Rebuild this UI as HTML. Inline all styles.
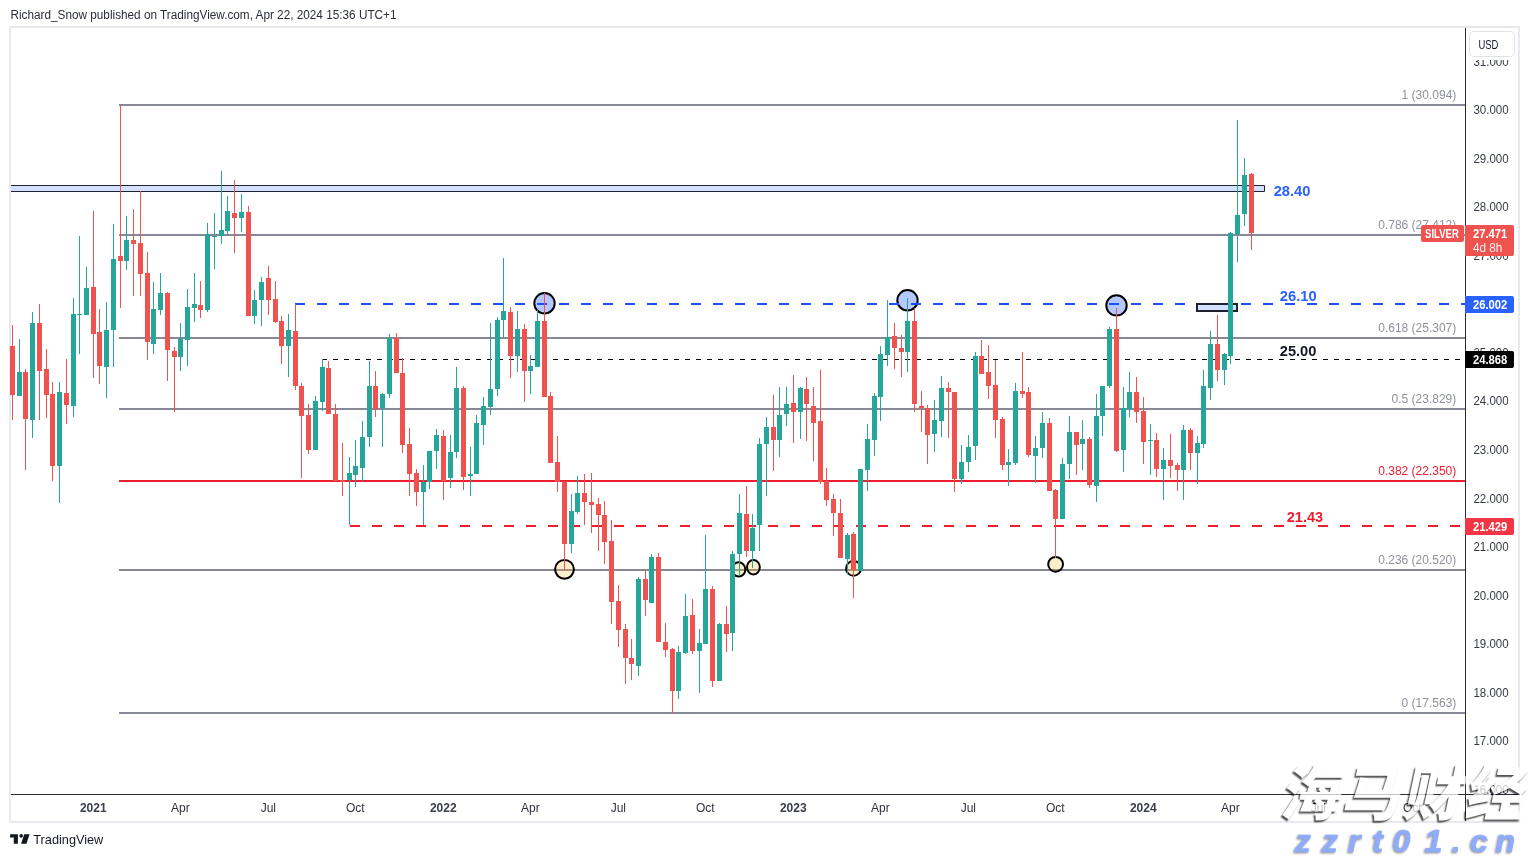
<!DOCTYPE html><html><head><meta charset="utf-8"><title>Silver weekly chart</title><style>
html,body{margin:0;padding:0;background:#fff;}body{width:1529px;height:857px;overflow:hidden;position:relative;}
svg{position:absolute;left:0;top:0;display:block;}
text{font-family:"Liberation Sans", Arial, sans-serif;}
.wm{position:absolute;font-family:"Liberation Sans","Noto Sans CJK SC",sans-serif;font-style:italic;white-space:nowrap;}
</style></head><body>
<svg width="1529" height="857" viewBox="0 0 1529 857">
<text x="10.5" y="19" font-size="12" fill="#2a2e39" textLength="386" lengthAdjust="spacingAndGlyphs">Richard_Snow published on TradingView.com, Apr 22, 2024 15:36 UTC+1</text>
<rect x="10" y="27" width="1509" height="795" fill="none" stroke="#e9eaef" stroke-width="2"/>
<g shape-rendering="crispEdges">
<rect x="119" y="104" width="1346" height="2" fill="#868995"/>
<rect x="119" y="234" width="1346" height="2" fill="#868995"/>
<rect x="119" y="337" width="1346" height="2" fill="#868995"/>
<rect x="119" y="408" width="1346" height="2" fill="#868995"/>
<rect x="119" y="480" width="1346" height="2" fill="#ef1d30"/>
<rect x="119" y="569" width="1346" height="2" fill="#868995"/>
<rect x="119" y="712" width="1346" height="2" fill="#868995"/>
</g>
<ellipse cx="544.5" cy="303.3" rx="10.2" ry="10.2" fill="rgba(41,98,255,0.35)" stroke="#000" stroke-width="2"/>
<ellipse cx="907.5" cy="300.3" rx="10.2" ry="10.2" fill="rgba(41,98,255,0.35)" stroke="#000" stroke-width="2"/>
<ellipse cx="1116.5" cy="305.4" rx="10.2" ry="10.2" fill="rgba(41,98,255,0.35)" stroke="#000" stroke-width="2"/>
<ellipse cx="564.5" cy="569.3" rx="9.4" ry="9.4" fill="rgba(247,192,51,0.25)" stroke="#000" stroke-width="2"/>
<ellipse cx="738.7" cy="569.4" rx="6.6" ry="7.2" fill="rgba(247,192,51,0.25)" stroke="#000" stroke-width="2"/>
<ellipse cx="753.4" cy="567.3" rx="6.4" ry="7.2" fill="rgba(247,192,51,0.25)" stroke="#000" stroke-width="2"/>
<ellipse cx="853.5" cy="568.4" rx="7.4" ry="7.4" fill="rgba(247,192,51,0.25)" stroke="#000" stroke-width="2"/>
<ellipse cx="1055.6" cy="564.3" rx="7.4" ry="7.4" fill="rgba(247,192,51,0.25)" stroke="#000" stroke-width="2"/>
<g shape-rendering="crispEdges">
<line x1="294.50" y1="304.00" x2="1465.00" y2="304.00" stroke="#1c4fff" stroke-width="2" stroke-dasharray="10 12"/>
<line x1="322.30" y1="359.50" x2="1465.00" y2="359.50" stroke="#000" stroke-width="1" stroke-dasharray="5 6"/>
<line x1="349.50" y1="526.00" x2="1465.00" y2="526.00" stroke="#ef1d30" stroke-width="2" stroke-dasharray="10 12"/>
</g>
<rect x="11" y="186" width="1254" height="5" fill="#d4e0ff"/>
<path d="M11 185.5 H1264.5 V191.5 H11" fill="none" stroke="#1f2330" stroke-width="1"/>
<rect x="1197" y="304" width="40" height="7" fill="#d4e0ff" stroke="#1f2330" stroke-width="2"/>
<g shape-rendering="crispEdges">
<rect x="12" y="325" width="1" height="95" fill="#ef5350"/>
<rect x="10" y="346" width="5" height="49" fill="#ef5350"/>
<rect x="19" y="339" width="1" height="57" fill="#26a69a"/>
<rect x="17" y="372" width="5" height="24" fill="#26a69a"/>
<rect x="25" y="369" width="1" height="101" fill="#ef5350"/>
<rect x="23" y="372" width="5" height="47" fill="#ef5350"/>
<rect x="32" y="312" width="1" height="126" fill="#26a69a"/>
<rect x="30" y="323" width="5" height="97" fill="#26a69a"/>
<rect x="39" y="304" width="1" height="116" fill="#ef5350"/>
<rect x="37" y="323" width="5" height="48" fill="#ef5350"/>
<rect x="46" y="349" width="1" height="69" fill="#ef5350"/>
<rect x="44" y="369" width="5" height="26" fill="#ef5350"/>
<rect x="52" y="382" width="1" height="99" fill="#ef5350"/>
<rect x="50" y="394" width="5" height="72" fill="#ef5350"/>
<rect x="59" y="382" width="1" height="121" fill="#26a69a"/>
<rect x="57" y="392" width="5" height="74" fill="#26a69a"/>
<rect x="66" y="359" width="1" height="65" fill="#ef5350"/>
<rect x="64" y="393" width="5" height="12" fill="#ef5350"/>
<rect x="73" y="298" width="1" height="119" fill="#26a69a"/>
<rect x="71" y="314" width="5" height="92" fill="#26a69a"/>
<rect x="79" y="236" width="1" height="118" fill="#26a69a"/>
<rect x="77" y="314" width="5" height="1" fill="#26a69a"/>
<rect x="86" y="267" width="1" height="48" fill="#26a69a"/>
<rect x="84" y="288" width="5" height="27" fill="#26a69a"/>
<rect x="93" y="211" width="1" height="167" fill="#ef5350"/>
<rect x="91" y="287" width="5" height="47" fill="#ef5350"/>
<rect x="99" y="309" width="1" height="75" fill="#ef5350"/>
<rect x="97" y="332" width="5" height="34" fill="#ef5350"/>
<rect x="106" y="302" width="1" height="96" fill="#26a69a"/>
<rect x="104" y="330" width="5" height="37" fill="#26a69a"/>
<rect x="113" y="224" width="1" height="143" fill="#26a69a"/>
<rect x="111" y="259" width="5" height="71" fill="#26a69a"/>
<rect x="120" y="105" width="1" height="203" fill="#ef5350"/>
<rect x="118" y="256" width="5" height="5" fill="#ef5350"/>
<rect x="126" y="216" width="1" height="54" fill="#26a69a"/>
<rect x="124" y="240" width="5" height="21" fill="#26a69a"/>
<rect x="133" y="209" width="1" height="87" fill="#ef5350"/>
<rect x="131" y="240" width="5" height="4" fill="#ef5350"/>
<rect x="140" y="191" width="1" height="105" fill="#ef5350"/>
<rect x="138" y="243" width="5" height="31" fill="#ef5350"/>
<rect x="147" y="252" width="1" height="108" fill="#ef5350"/>
<rect x="145" y="273" width="5" height="69" fill="#ef5350"/>
<rect x="153" y="282" width="1" height="72" fill="#26a69a"/>
<rect x="151" y="309" width="5" height="35" fill="#26a69a"/>
<rect x="160" y="273" width="1" height="42" fill="#26a69a"/>
<rect x="158" y="293" width="5" height="17" fill="#26a69a"/>
<rect x="167" y="292" width="1" height="89" fill="#ef5350"/>
<rect x="165" y="293" width="5" height="57" fill="#ef5350"/>
<rect x="174" y="347" width="1" height="65" fill="#ef5350"/>
<rect x="172" y="351" width="5" height="6" fill="#ef5350"/>
<rect x="180" y="323" width="1" height="48" fill="#26a69a"/>
<rect x="178" y="339" width="5" height="18" fill="#26a69a"/>
<rect x="187" y="289" width="1" height="77" fill="#26a69a"/>
<rect x="185" y="307" width="5" height="33" fill="#26a69a"/>
<rect x="194" y="273" width="1" height="49" fill="#26a69a"/>
<rect x="192" y="304" width="5" height="4" fill="#26a69a"/>
<rect x="200" y="281" width="1" height="37" fill="#ef5350"/>
<rect x="198" y="305" width="5" height="5" fill="#ef5350"/>
<rect x="207" y="223" width="1" height="89" fill="#26a69a"/>
<rect x="205" y="234" width="5" height="76" fill="#26a69a"/>
<rect x="214" y="213" width="1" height="56" fill="#26a69a"/>
<rect x="212" y="236" width="5" height="1" fill="#26a69a"/>
<rect x="221" y="171" width="1" height="73" fill="#26a69a"/>
<rect x="219" y="230" width="5" height="6" fill="#26a69a"/>
<rect x="227" y="196" width="1" height="39" fill="#26a69a"/>
<rect x="225" y="211" width="5" height="20" fill="#26a69a"/>
<rect x="234" y="180" width="1" height="73" fill="#ef5350"/>
<rect x="232" y="213" width="5" height="5" fill="#ef5350"/>
<rect x="241" y="194" width="1" height="38" fill="#26a69a"/>
<rect x="239" y="212" width="5" height="6" fill="#26a69a"/>
<rect x="248" y="206" width="1" height="110" fill="#ef5350"/>
<rect x="246" y="212" width="5" height="104" fill="#ef5350"/>
<rect x="254" y="290" width="1" height="34" fill="#26a69a"/>
<rect x="252" y="300" width="5" height="16" fill="#26a69a"/>
<rect x="261" y="277" width="1" height="49" fill="#26a69a"/>
<rect x="259" y="282" width="5" height="18" fill="#26a69a"/>
<rect x="268" y="266" width="1" height="49" fill="#ef5350"/>
<rect x="266" y="278" width="5" height="22" fill="#ef5350"/>
<rect x="275" y="281" width="1" height="42" fill="#ef5350"/>
<rect x="273" y="299" width="5" height="23" fill="#ef5350"/>
<rect x="281" y="316" width="1" height="48" fill="#ef5350"/>
<rect x="279" y="321" width="5" height="25" fill="#ef5350"/>
<rect x="288" y="314" width="1" height="63" fill="#26a69a"/>
<rect x="286" y="330" width="5" height="16" fill="#26a69a"/>
<rect x="295" y="304" width="1" height="86" fill="#ef5350"/>
<rect x="293" y="331" width="5" height="55" fill="#ef5350"/>
<rect x="301" y="383" width="1" height="95" fill="#ef5350"/>
<rect x="299" y="386" width="5" height="30" fill="#ef5350"/>
<rect x="308" y="404" width="1" height="50" fill="#ef5350"/>
<rect x="306" y="415" width="5" height="35" fill="#ef5350"/>
<rect x="315" y="396" width="1" height="54" fill="#26a69a"/>
<rect x="313" y="401" width="5" height="49" fill="#26a69a"/>
<rect x="322" y="359" width="1" height="52" fill="#26a69a"/>
<rect x="320" y="367" width="5" height="35" fill="#26a69a"/>
<rect x="328" y="361" width="1" height="53" fill="#ef5350"/>
<rect x="326" y="368" width="5" height="46" fill="#ef5350"/>
<rect x="335" y="404" width="1" height="77" fill="#ef5350"/>
<rect x="333" y="414" width="5" height="67" fill="#ef5350"/>
<rect x="342" y="443" width="1" height="53" fill="#ef5350"/>
<rect x="340" y="480" width="5" height="2" fill="#ef5350"/>
<rect x="349" y="457" width="1" height="68" fill="#26a69a"/>
<rect x="347" y="473" width="5" height="7" fill="#26a69a"/>
<rect x="355" y="440" width="1" height="47" fill="#26a69a"/>
<rect x="353" y="466" width="5" height="9" fill="#26a69a"/>
<rect x="362" y="421" width="1" height="60" fill="#26a69a"/>
<rect x="360" y="437" width="5" height="31" fill="#26a69a"/>
<rect x="369" y="361" width="1" height="86" fill="#26a69a"/>
<rect x="367" y="386" width="5" height="51" fill="#26a69a"/>
<rect x="375" y="371" width="1" height="46" fill="#ef5350"/>
<rect x="373" y="386" width="5" height="23" fill="#ef5350"/>
<rect x="382" y="393" width="1" height="54" fill="#26a69a"/>
<rect x="380" y="394" width="5" height="14" fill="#26a69a"/>
<rect x="389" y="334" width="1" height="64" fill="#26a69a"/>
<rect x="387" y="338" width="5" height="56" fill="#26a69a"/>
<rect x="396" y="333" width="1" height="40" fill="#ef5350"/>
<rect x="394" y="338" width="5" height="35" fill="#ef5350"/>
<rect x="402" y="358" width="1" height="95" fill="#ef5350"/>
<rect x="400" y="373" width="5" height="72" fill="#ef5350"/>
<rect x="409" y="428" width="1" height="68" fill="#ef5350"/>
<rect x="407" y="444" width="5" height="30" fill="#ef5350"/>
<rect x="416" y="469" width="1" height="37" fill="#ef5350"/>
<rect x="414" y="473" width="5" height="19" fill="#ef5350"/>
<rect x="423" y="465" width="1" height="60" fill="#26a69a"/>
<rect x="421" y="482" width="5" height="10" fill="#26a69a"/>
<rect x="429" y="451" width="1" height="38" fill="#26a69a"/>
<rect x="427" y="451" width="5" height="31" fill="#26a69a"/>
<rect x="436" y="429" width="1" height="40" fill="#26a69a"/>
<rect x="434" y="435" width="5" height="16" fill="#26a69a"/>
<rect x="443" y="430" width="1" height="70" fill="#ef5350"/>
<rect x="441" y="436" width="5" height="45" fill="#ef5350"/>
<rect x="450" y="435" width="1" height="53" fill="#26a69a"/>
<rect x="448" y="452" width="5" height="26" fill="#26a69a"/>
<rect x="456" y="367" width="1" height="91" fill="#26a69a"/>
<rect x="454" y="388" width="5" height="64" fill="#26a69a"/>
<rect x="463" y="386" width="1" height="104" fill="#ef5350"/>
<rect x="461" y="388" width="5" height="89" fill="#ef5350"/>
<rect x="470" y="447" width="1" height="49" fill="#26a69a"/>
<rect x="468" y="474" width="5" height="2" fill="#26a69a"/>
<rect x="476" y="415" width="1" height="59" fill="#26a69a"/>
<rect x="474" y="423" width="5" height="51" fill="#26a69a"/>
<rect x="483" y="397" width="1" height="48" fill="#26a69a"/>
<rect x="481" y="406" width="5" height="19" fill="#26a69a"/>
<rect x="490" y="323" width="1" height="92" fill="#26a69a"/>
<rect x="488" y="389" width="5" height="18" fill="#26a69a"/>
<rect x="497" y="317" width="1" height="79" fill="#26a69a"/>
<rect x="495" y="320" width="5" height="69" fill="#26a69a"/>
<rect x="503" y="258" width="1" height="79" fill="#26a69a"/>
<rect x="501" y="311" width="5" height="9" fill="#26a69a"/>
<rect x="510" y="307" width="1" height="71" fill="#ef5350"/>
<rect x="508" y="312" width="5" height="44" fill="#ef5350"/>
<rect x="517" y="311" width="1" height="61" fill="#26a69a"/>
<rect x="515" y="329" width="5" height="27" fill="#26a69a"/>
<rect x="524" y="324" width="1" height="78" fill="#ef5350"/>
<rect x="522" y="329" width="5" height="42" fill="#ef5350"/>
<rect x="530" y="355" width="1" height="39" fill="#26a69a"/>
<rect x="528" y="366" width="5" height="5" fill="#26a69a"/>
<rect x="537" y="310" width="1" height="57" fill="#26a69a"/>
<rect x="535" y="321" width="5" height="46" fill="#26a69a"/>
<rect x="544" y="293" width="1" height="104" fill="#ef5350"/>
<rect x="542" y="321" width="5" height="76" fill="#ef5350"/>
<rect x="550" y="392" width="1" height="71" fill="#ef5350"/>
<rect x="548" y="396" width="5" height="67" fill="#ef5350"/>
<rect x="557" y="436" width="1" height="56" fill="#ef5350"/>
<rect x="555" y="462" width="5" height="20" fill="#ef5350"/>
<rect x="564" y="481" width="1" height="90" fill="#ef5350"/>
<rect x="562" y="481" width="5" height="63" fill="#ef5350"/>
<rect x="571" y="494" width="1" height="59" fill="#26a69a"/>
<rect x="569" y="511" width="5" height="33" fill="#26a69a"/>
<rect x="577" y="476" width="1" height="38" fill="#26a69a"/>
<rect x="575" y="493" width="5" height="19" fill="#26a69a"/>
<rect x="584" y="474" width="1" height="51" fill="#ef5350"/>
<rect x="582" y="493" width="5" height="9" fill="#ef5350"/>
<rect x="591" y="473" width="1" height="60" fill="#ef5350"/>
<rect x="589" y="502" width="5" height="3" fill="#ef5350"/>
<rect x="598" y="498" width="1" height="53" fill="#ef5350"/>
<rect x="596" y="504" width="5" height="11" fill="#ef5350"/>
<rect x="604" y="501" width="1" height="63" fill="#ef5350"/>
<rect x="602" y="515" width="5" height="27" fill="#ef5350"/>
<rect x="611" y="520" width="1" height="104" fill="#ef5350"/>
<rect x="609" y="541" width="5" height="61" fill="#ef5350"/>
<rect x="618" y="585" width="1" height="62" fill="#ef5350"/>
<rect x="616" y="601" width="5" height="29" fill="#ef5350"/>
<rect x="625" y="624" width="1" height="60" fill="#ef5350"/>
<rect x="623" y="629" width="5" height="29" fill="#ef5350"/>
<rect x="631" y="639" width="1" height="41" fill="#ef5350"/>
<rect x="629" y="658" width="5" height="6" fill="#ef5350"/>
<rect x="638" y="577" width="1" height="99" fill="#26a69a"/>
<rect x="636" y="579" width="5" height="87" fill="#26a69a"/>
<rect x="645" y="570" width="1" height="46" fill="#ef5350"/>
<rect x="643" y="579" width="5" height="21" fill="#ef5350"/>
<rect x="651" y="554" width="1" height="49" fill="#26a69a"/>
<rect x="649" y="557" width="5" height="46" fill="#26a69a"/>
<rect x="658" y="553" width="1" height="89" fill="#ef5350"/>
<rect x="656" y="557" width="5" height="85" fill="#ef5350"/>
<rect x="665" y="623" width="1" height="34" fill="#ef5350"/>
<rect x="663" y="642" width="5" height="8" fill="#ef5350"/>
<rect x="672" y="648" width="1" height="65" fill="#ef5350"/>
<rect x="670" y="649" width="5" height="42" fill="#ef5350"/>
<rect x="678" y="646" width="1" height="53" fill="#26a69a"/>
<rect x="676" y="652" width="5" height="39" fill="#26a69a"/>
<rect x="685" y="594" width="1" height="60" fill="#26a69a"/>
<rect x="683" y="616" width="5" height="37" fill="#26a69a"/>
<rect x="692" y="599" width="1" height="55" fill="#ef5350"/>
<rect x="690" y="615" width="5" height="36" fill="#ef5350"/>
<rect x="699" y="629" width="1" height="64" fill="#26a69a"/>
<rect x="697" y="643" width="5" height="8" fill="#26a69a"/>
<rect x="705" y="535" width="1" height="109" fill="#26a69a"/>
<rect x="703" y="589" width="5" height="55" fill="#26a69a"/>
<rect x="712" y="586" width="1" height="101" fill="#ef5350"/>
<rect x="710" y="589" width="5" height="92" fill="#ef5350"/>
<rect x="719" y="623" width="1" height="58" fill="#26a69a"/>
<rect x="717" y="624" width="5" height="57" fill="#26a69a"/>
<rect x="726" y="606" width="1" height="46" fill="#ef5350"/>
<rect x="724" y="624" width="5" height="10" fill="#ef5350"/>
<rect x="732" y="551" width="1" height="100" fill="#26a69a"/>
<rect x="730" y="554" width="5" height="79" fill="#26a69a"/>
<rect x="739" y="494" width="1" height="82" fill="#26a69a"/>
<rect x="737" y="513" width="5" height="41" fill="#26a69a"/>
<rect x="746" y="486" width="1" height="71" fill="#ef5350"/>
<rect x="744" y="514" width="5" height="37" fill="#ef5350"/>
<rect x="752" y="514" width="1" height="54" fill="#26a69a"/>
<rect x="750" y="528" width="5" height="23" fill="#26a69a"/>
<rect x="759" y="438" width="1" height="113" fill="#26a69a"/>
<rect x="757" y="444" width="5" height="81" fill="#26a69a"/>
<rect x="766" y="417" width="1" height="79" fill="#26a69a"/>
<rect x="764" y="427" width="5" height="17" fill="#26a69a"/>
<rect x="773" y="395" width="1" height="76" fill="#ef5350"/>
<rect x="771" y="427" width="5" height="13" fill="#ef5350"/>
<rect x="779" y="387" width="1" height="70" fill="#26a69a"/>
<rect x="777" y="415" width="5" height="25" fill="#26a69a"/>
<rect x="786" y="387" width="1" height="39" fill="#26a69a"/>
<rect x="784" y="404" width="5" height="10" fill="#26a69a"/>
<rect x="793" y="375" width="1" height="68" fill="#ef5350"/>
<rect x="791" y="403" width="5" height="9" fill="#ef5350"/>
<rect x="800" y="387" width="1" height="52" fill="#26a69a"/>
<rect x="798" y="388" width="5" height="24" fill="#26a69a"/>
<rect x="806" y="377" width="1" height="64" fill="#ef5350"/>
<rect x="804" y="389" width="5" height="15" fill="#ef5350"/>
<rect x="813" y="387" width="1" height="74" fill="#ef5350"/>
<rect x="811" y="406" width="5" height="17" fill="#ef5350"/>
<rect x="820" y="370" width="1" height="114" fill="#ef5350"/>
<rect x="818" y="421" width="5" height="61" fill="#ef5350"/>
<rect x="826" y="468" width="1" height="38" fill="#ef5350"/>
<rect x="824" y="481" width="5" height="19" fill="#ef5350"/>
<rect x="833" y="494" width="1" height="42" fill="#ef5350"/>
<rect x="831" y="499" width="5" height="14" fill="#ef5350"/>
<rect x="840" y="499" width="1" height="59" fill="#ef5350"/>
<rect x="838" y="513" width="5" height="45" fill="#ef5350"/>
<rect x="847" y="533" width="1" height="41" fill="#26a69a"/>
<rect x="845" y="535" width="5" height="24" fill="#26a69a"/>
<rect x="853" y="532" width="1" height="66" fill="#ef5350"/>
<rect x="851" y="534" width="5" height="36" fill="#ef5350"/>
<rect x="860" y="469" width="1" height="102" fill="#26a69a"/>
<rect x="858" y="469" width="5" height="102" fill="#26a69a"/>
<rect x="867" y="424" width="1" height="67" fill="#26a69a"/>
<rect x="865" y="439" width="5" height="31" fill="#26a69a"/>
<rect x="874" y="393" width="1" height="63" fill="#26a69a"/>
<rect x="872" y="396" width="5" height="44" fill="#26a69a"/>
<rect x="880" y="346" width="1" height="75" fill="#26a69a"/>
<rect x="878" y="354" width="5" height="43" fill="#26a69a"/>
<rect x="887" y="300" width="1" height="66" fill="#26a69a"/>
<rect x="885" y="337" width="5" height="18" fill="#26a69a"/>
<rect x="894" y="323" width="1" height="46" fill="#ef5350"/>
<rect x="892" y="336" width="5" height="12" fill="#ef5350"/>
<rect x="901" y="335" width="1" height="42" fill="#ef5350"/>
<rect x="899" y="348" width="5" height="4" fill="#ef5350"/>
<rect x="907" y="298" width="1" height="74" fill="#26a69a"/>
<rect x="905" y="321" width="5" height="31" fill="#26a69a"/>
<rect x="914" y="308" width="1" height="104" fill="#ef5350"/>
<rect x="912" y="321" width="5" height="83" fill="#ef5350"/>
<rect x="921" y="391" width="1" height="41" fill="#ef5350"/>
<rect x="919" y="406" width="5" height="2" fill="#ef5350"/>
<rect x="927" y="405" width="1" height="59" fill="#ef5350"/>
<rect x="925" y="408" width="5" height="27" fill="#ef5350"/>
<rect x="934" y="400" width="1" height="52" fill="#26a69a"/>
<rect x="932" y="420" width="5" height="14" fill="#26a69a"/>
<rect x="941" y="376" width="1" height="61" fill="#26a69a"/>
<rect x="939" y="388" width="5" height="33" fill="#26a69a"/>
<rect x="948" y="382" width="1" height="56" fill="#ef5350"/>
<rect x="946" y="388" width="5" height="4" fill="#ef5350"/>
<rect x="954" y="392" width="1" height="100" fill="#ef5350"/>
<rect x="952" y="392" width="5" height="87" fill="#ef5350"/>
<rect x="961" y="445" width="1" height="39" fill="#26a69a"/>
<rect x="959" y="462" width="5" height="17" fill="#26a69a"/>
<rect x="968" y="435" width="1" height="37" fill="#26a69a"/>
<rect x="966" y="447" width="5" height="15" fill="#26a69a"/>
<rect x="975" y="352" width="1" height="108" fill="#26a69a"/>
<rect x="973" y="356" width="5" height="90" fill="#26a69a"/>
<rect x="981" y="340" width="1" height="34" fill="#ef5350"/>
<rect x="979" y="356" width="5" height="18" fill="#ef5350"/>
<rect x="988" y="345" width="1" height="54" fill="#ef5350"/>
<rect x="986" y="372" width="5" height="14" fill="#ef5350"/>
<rect x="995" y="360" width="1" height="78" fill="#ef5350"/>
<rect x="993" y="385" width="5" height="35" fill="#ef5350"/>
<rect x="1002" y="417" width="1" height="53" fill="#ef5350"/>
<rect x="1000" y="419" width="5" height="46" fill="#ef5350"/>
<rect x="1008" y="449" width="1" height="37" fill="#26a69a"/>
<rect x="1006" y="462" width="5" height="3" fill="#26a69a"/>
<rect x="1015" y="383" width="1" height="82" fill="#26a69a"/>
<rect x="1013" y="391" width="5" height="72" fill="#26a69a"/>
<rect x="1022" y="352" width="1" height="46" fill="#ef5350"/>
<rect x="1020" y="391" width="5" height="3" fill="#ef5350"/>
<rect x="1028" y="387" width="1" height="70" fill="#ef5350"/>
<rect x="1026" y="392" width="5" height="63" fill="#ef5350"/>
<rect x="1035" y="436" width="1" height="47" fill="#26a69a"/>
<rect x="1033" y="448" width="5" height="8" fill="#26a69a"/>
<rect x="1042" y="412" width="1" height="46" fill="#26a69a"/>
<rect x="1040" y="423" width="5" height="25" fill="#26a69a"/>
<rect x="1049" y="418" width="1" height="73" fill="#ef5350"/>
<rect x="1047" y="423" width="5" height="68" fill="#ef5350"/>
<rect x="1055" y="489" width="1" height="69" fill="#ef5350"/>
<rect x="1053" y="490" width="5" height="29" fill="#ef5350"/>
<rect x="1062" y="458" width="1" height="61" fill="#26a69a"/>
<rect x="1060" y="464" width="5" height="55" fill="#26a69a"/>
<rect x="1069" y="416" width="1" height="63" fill="#26a69a"/>
<rect x="1067" y="432" width="5" height="32" fill="#26a69a"/>
<rect x="1076" y="432" width="1" height="43" fill="#ef5350"/>
<rect x="1074" y="432" width="5" height="13" fill="#ef5350"/>
<rect x="1082" y="420" width="1" height="50" fill="#26a69a"/>
<rect x="1080" y="439" width="5" height="5" fill="#26a69a"/>
<rect x="1089" y="437" width="1" height="51" fill="#ef5350"/>
<rect x="1087" y="439" width="5" height="46" fill="#ef5350"/>
<rect x="1096" y="394" width="1" height="108" fill="#26a69a"/>
<rect x="1094" y="416" width="5" height="70" fill="#26a69a"/>
<rect x="1102" y="386" width="1" height="50" fill="#26a69a"/>
<rect x="1100" y="386" width="5" height="30" fill="#26a69a"/>
<rect x="1109" y="327" width="1" height="61" fill="#26a69a"/>
<rect x="1107" y="329" width="5" height="57" fill="#26a69a"/>
<rect x="1116" y="308" width="1" height="144" fill="#ef5350"/>
<rect x="1114" y="329" width="5" height="122" fill="#ef5350"/>
<rect x="1123" y="387" width="1" height="85" fill="#26a69a"/>
<rect x="1121" y="408" width="5" height="42" fill="#26a69a"/>
<rect x="1129" y="372" width="1" height="45" fill="#26a69a"/>
<rect x="1127" y="392" width="5" height="17" fill="#26a69a"/>
<rect x="1136" y="377" width="1" height="46" fill="#ef5350"/>
<rect x="1134" y="392" width="5" height="20" fill="#ef5350"/>
<rect x="1143" y="397" width="1" height="67" fill="#ef5350"/>
<rect x="1141" y="411" width="5" height="31" fill="#ef5350"/>
<rect x="1150" y="424" width="1" height="51" fill="#26a69a"/>
<rect x="1148" y="440" width="5" height="1" fill="#26a69a"/>
<rect x="1156" y="433" width="1" height="44" fill="#ef5350"/>
<rect x="1154" y="440" width="5" height="29" fill="#ef5350"/>
<rect x="1163" y="448" width="1" height="52" fill="#26a69a"/>
<rect x="1161" y="460" width="5" height="9" fill="#26a69a"/>
<rect x="1170" y="434" width="1" height="44" fill="#ef5350"/>
<rect x="1168" y="460" width="5" height="6" fill="#ef5350"/>
<rect x="1177" y="463" width="1" height="28" fill="#ef5350"/>
<rect x="1175" y="465" width="5" height="5" fill="#ef5350"/>
<rect x="1183" y="425" width="1" height="75" fill="#26a69a"/>
<rect x="1181" y="430" width="5" height="40" fill="#26a69a"/>
<rect x="1190" y="428" width="1" height="42" fill="#ef5350"/>
<rect x="1188" y="430" width="5" height="23" fill="#ef5350"/>
<rect x="1197" y="436" width="1" height="48" fill="#26a69a"/>
<rect x="1195" y="443" width="5" height="10" fill="#26a69a"/>
<rect x="1203" y="370" width="1" height="78" fill="#26a69a"/>
<rect x="1201" y="386" width="5" height="58" fill="#26a69a"/>
<rect x="1210" y="331" width="1" height="69" fill="#26a69a"/>
<rect x="1208" y="344" width="5" height="44" fill="#26a69a"/>
<rect x="1217" y="315" width="1" height="66" fill="#ef5350"/>
<rect x="1215" y="344" width="5" height="26" fill="#ef5350"/>
<rect x="1224" y="353" width="1" height="32" fill="#26a69a"/>
<rect x="1222" y="354" width="5" height="16" fill="#26a69a"/>
<rect x="1230" y="232" width="1" height="132" fill="#26a69a"/>
<rect x="1228" y="233" width="5" height="123" fill="#26a69a"/>
<rect x="1237" y="120" width="1" height="142" fill="#26a69a"/>
<rect x="1235" y="215" width="5" height="19" fill="#26a69a"/>
<rect x="1244" y="158" width="1" height="68" fill="#26a69a"/>
<rect x="1242" y="175" width="5" height="39" fill="#26a69a"/>
<rect x="1251" y="173" width="1" height="77" fill="#ef5350"/>
<rect x="1249" y="174" width="5" height="59" fill="#ef5350"/>
</g>
<text x="1456.3" y="98.9" font-size="12" fill="#8f929c" text-anchor="end">1 (30.094)</text>
<text x="1456.3" y="228.9" font-size="12" fill="#8f929c" text-anchor="end">0.786 (27.412)</text>
<text x="1456.3" y="331.9" font-size="12" fill="#8f929c" text-anchor="end">0.618 (25.307)</text>
<text x="1456.3" y="402.9" font-size="12" fill="#8f929c" text-anchor="end">0.5 (23.829)</text>
<text x="1456.3" y="474.9" font-size="12" fill="#ef1d30" text-anchor="end">0.382 (22.350)</text>
<text x="1456.3" y="563.9" font-size="12" fill="#8f929c" text-anchor="end">0.236 (20.520)</text>
<text x="1456.3" y="706.9" font-size="12" fill="#8f929c" text-anchor="end">0 (17.563)</text>
<text x="1273.7" y="195.8" font-size="14" font-weight="bold" fill="#2962ff" textLength="36.8" lengthAdjust="spacingAndGlyphs">28.40</text>
<text x="1279.8" y="300.8" font-size="14" font-weight="bold" fill="#2962ff" textLength="36.9" lengthAdjust="spacingAndGlyphs">26.10</text>
<text x="1279.8" y="356.4" font-size="14" font-weight="bold" fill="#131722" textLength="36.6" lengthAdjust="spacingAndGlyphs">25.00</text>
<text x="1286.8" y="521.9" font-size="14" font-weight="bold" fill="#ef1d30" textLength="36.3" lengthAdjust="spacingAndGlyphs">21.43</text>
<rect x="1421" y="225" width="43" height="17" rx="2" fill="#ef5350"/>
<text x="1425.1" y="237.9" font-size="12" font-weight="bold" fill="#fff" textLength="33.8" lengthAdjust="spacingAndGlyphs">SILVER</text>
<g shape-rendering="crispEdges">
<rect x="1465" y="28" width="1" height="793" fill="#2a2e39"/>
<rect x="11" y="794" width="1507" height="1" fill="#2a2e39"/>
</g>
<text x="1473.4" y="65.6" font-size="12" fill="#363a45" textLength="35.2" lengthAdjust="spacingAndGlyphs">31.000</text>
<text x="1473.4" y="113.6" font-size="12" fill="#363a45" textLength="35.2" lengthAdjust="spacingAndGlyphs">30.000</text>
<text x="1473.4" y="162.6" font-size="12" fill="#363a45" textLength="35.2" lengthAdjust="spacingAndGlyphs">29.000</text>
<text x="1473.4" y="210.6" font-size="12" fill="#363a45" textLength="35.2" lengthAdjust="spacingAndGlyphs">28.000</text>
<text x="1473.4" y="259.6" font-size="12" fill="#363a45" textLength="35.2" lengthAdjust="spacingAndGlyphs">27.000</text>
<text x="1473.4" y="307.6" font-size="12" fill="#363a45" textLength="35.2" lengthAdjust="spacingAndGlyphs">26.000</text>
<text x="1473.4" y="356.6" font-size="12" fill="#363a45" textLength="35.2" lengthAdjust="spacingAndGlyphs">25.000</text>
<text x="1473.4" y="404.6" font-size="12" fill="#363a45" textLength="35.2" lengthAdjust="spacingAndGlyphs">24.000</text>
<text x="1473.4" y="453.6" font-size="12" fill="#363a45" textLength="35.2" lengthAdjust="spacingAndGlyphs">23.000</text>
<text x="1473.4" y="502.6" font-size="12" fill="#363a45" textLength="35.2" lengthAdjust="spacingAndGlyphs">22.000</text>
<text x="1473.4" y="550.6" font-size="12" fill="#363a45" textLength="35.2" lengthAdjust="spacingAndGlyphs">21.000</text>
<text x="1473.4" y="599.6" font-size="12" fill="#363a45" textLength="35.2" lengthAdjust="spacingAndGlyphs">20.000</text>
<text x="1473.4" y="647.6" font-size="12" fill="#363a45" textLength="35.2" lengthAdjust="spacingAndGlyphs">19.000</text>
<text x="1473.4" y="696.6" font-size="12" fill="#363a45" textLength="35.2" lengthAdjust="spacingAndGlyphs">18.000</text>
<text x="1473.4" y="744.6" font-size="12" fill="#363a45" textLength="35.2" lengthAdjust="spacingAndGlyphs">17.000</text>
<text x="1473.4" y="793.6" font-size="12" fill="#363a45" textLength="35.2" lengthAdjust="spacingAndGlyphs">16.000</text>
<rect x="1466" y="28" width="51" height="32" fill="#fff"/>
<rect x="1469.5" y="31.5" width="45" height="25" rx="4" fill="#fff" stroke="#e0e3eb" stroke-width="1"/>
<text x="1478.4" y="48.6" font-size="12" fill="#131722" textLength="20" lengthAdjust="spacingAndGlyphs">USD</text>
<path d="M1465 225 H1512 a2 2 0 0 1 2 2 V254 a2 2 0 0 1 -2 2 H1465 Z" fill="#ef5350"/>
<text x="1472.9" y="237.8" font-size="12" font-weight="bold" fill="#fff" textLength="34.4" lengthAdjust="spacingAndGlyphs">27.471</text>
<text x="1472.9" y="251.8" font-size="12" fill="#fff" fill-opacity="0.9" textLength="29.5" lengthAdjust="spacingAndGlyphs">4d 8h</text>
<path d="M1465 296 H1512 a2 2 0 0 1 2 2 V311 a2 2 0 0 1 -2 2 H1465 Z" fill="#2962ff"/>
<text x="1472.9" y="308.8" font-size="12" font-weight="bold" fill="#fff" textLength="34.4" lengthAdjust="spacingAndGlyphs">26.002</text>
<path d="M1465 351 H1512 a2 2 0 0 1 2 2 V366 a2 2 0 0 1 -2 2 H1465 Z" fill="#000"/>
<text x="1472.9" y="363.8" font-size="12" font-weight="bold" fill="#fff" textLength="34.4" lengthAdjust="spacingAndGlyphs">24.868</text>
<path d="M1465 518 H1512 a2 2 0 0 1 2 2 V533 a2 2 0 0 1 -2 2 H1465 Z" fill="#f23645"/>
<text x="1472.9" y="530.8" font-size="12" font-weight="bold" fill="#fff" textLength="34.4" lengthAdjust="spacingAndGlyphs">21.429</text>
<text x="93.3" y="812.3" font-size="12" fill="#3a3e4a" text-anchor="middle" font-weight="bold">2021</text>
<text x="180.3" y="812.3" font-size="12" fill="#2f3340" text-anchor="middle">Apr</text>
<text x="268.3" y="812.3" font-size="12" fill="#2f3340" text-anchor="middle">Jul</text>
<text x="355.3" y="812.3" font-size="12" fill="#2f3340" text-anchor="middle">Oct</text>
<text x="443.3" y="812.3" font-size="12" fill="#3a3e4a" text-anchor="middle" font-weight="bold">2022</text>
<text x="530.3" y="812.3" font-size="12" fill="#2f3340" text-anchor="middle">Apr</text>
<text x="618.3" y="812.3" font-size="12" fill="#2f3340" text-anchor="middle">Jul</text>
<text x="705.3" y="812.3" font-size="12" fill="#2f3340" text-anchor="middle">Oct</text>
<text x="793.3" y="812.3" font-size="12" fill="#3a3e4a" text-anchor="middle" font-weight="bold">2023</text>
<text x="880.3" y="812.3" font-size="12" fill="#2f3340" text-anchor="middle">Apr</text>
<text x="968.3" y="812.3" font-size="12" fill="#2f3340" text-anchor="middle">Jul</text>
<text x="1055.3" y="812.3" font-size="12" fill="#2f3340" text-anchor="middle">Oct</text>
<text x="1143.3" y="812.3" font-size="12" fill="#3a3e4a" text-anchor="middle" font-weight="bold">2024</text>
<text x="1230.3" y="812.3" font-size="12" fill="#2f3340" text-anchor="middle">Apr</text>
<text x="1318.3" y="812.3" font-size="12" fill="#2f3340" text-anchor="middle">Jul</text>
<text x="1412.3" y="812.3" font-size="12" fill="#2f3340" text-anchor="middle">Oct</text>
<g fill="#131722">
<path d="M10.1 834.2 H17.9 V843.8 H13.8 V837.6 H10.1 Z"/>
<circle cx="21.2" cy="835.9" r="1.8"/>
<path d="M24.2 834.2 H29.6 L26.4 843.8 H21.1 Z"/>
</g>
<text x="33.3" y="843.8" font-size="13" fill="#131722" textLength="70" lengthAdjust="spacingAndGlyphs">TradingView</text>
</svg>
<div class="wm" style="left:1278px;top:759.5px;width:247px;height:70px;font-family:'Liberation Sans','Noto Sans CJK SC',sans-serif;font-style:normal;font-weight:900;font-size:59px;line-height:70px;color:#fff;opacity:0.72;transform:skewX(-12deg);transform-origin:0 60px;letter-spacing:2.5px;text-shadow:-1.5px 1.5px 1.5px rgba(0,0,0,0.95);">海马财经</div>
<svg width="1529" height="857" style="position:absolute;left:0;top:0"><text x="1294.65 1321.65 1348.10 1372.25 1392.50 1424.60 1451.70 1470.10 1495.45" y="851.5" font-family="DejaVu Sans, sans-serif" font-weight="bold" font-style="italic" font-size="32" fill="#8eacfb" stroke="#8eacfb" stroke-width="0.7" style="filter:drop-shadow(-1px 1.5px 1px rgba(0,0,0,0.45))">zzrt01.cn</text></svg>
</body></html>
